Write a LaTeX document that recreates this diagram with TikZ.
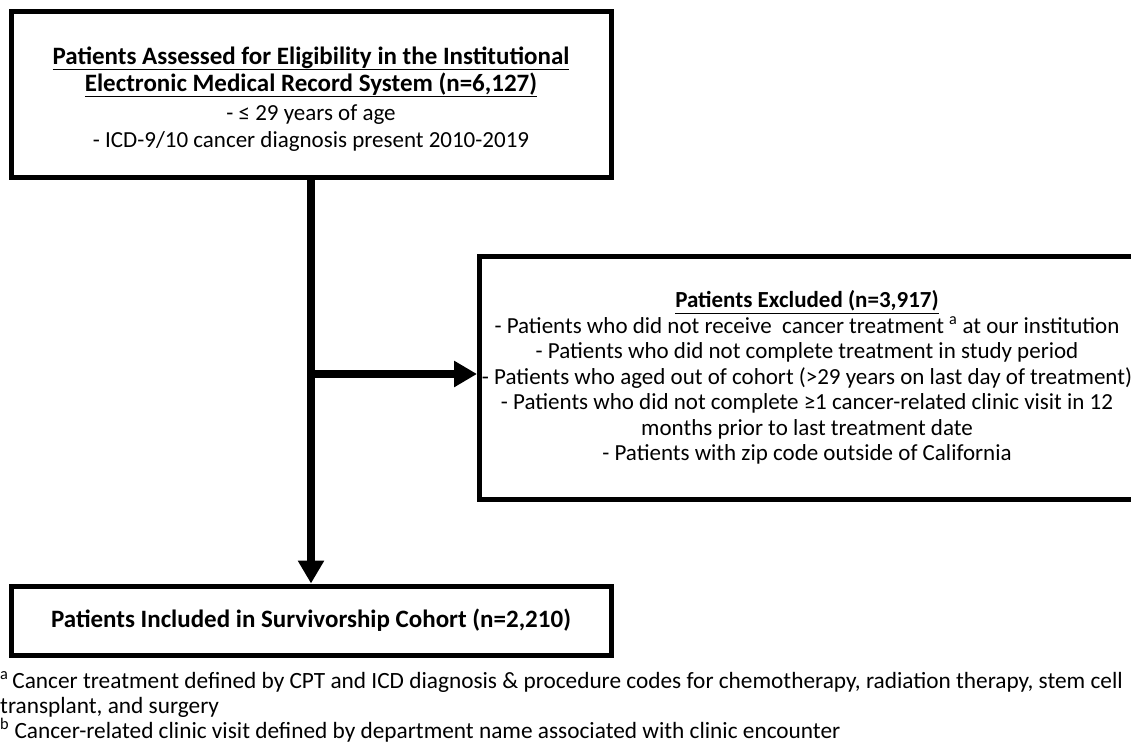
\documentclass[tikz,border=0pt]{standalone}
\usepackage{fontspec}
\setmainfont{Carlito}
\usetikzlibrary{arrows.meta}
\begin{document}
\begin{tikzpicture}[x=1pt,y=-1pt,
  box/.style={draw=black,line width=5pt,fill=white,inner sep=0pt,align=center,
    font=\fontsize{23}{27}\selectfont},
  bigtitle/.style={font=\fontsize{25}{27}\selectfont\bfseries},
  flow/.style={line width=7.5pt,-{Triangle[length=23pt,width=25pt]}},
  note/.style={anchor=north west,inner sep=0pt,align=left,
    font=\fontsize{23.3}{25}\selectfont}]
\useasboundingbox (0,0) rectangle (1131,749);
\clip (0,0) rectangle (1131,749);
\node[box,minimum width=600pt,minimum height=166pt] (top) at (311,94.5)
  {\rule{0pt}{26pt}{\fontsize{25}{27}\selectfont\bfseries\underline{Patients Assessed for Eligibility in the Institutional}}\\
   {\fontsize{25}{27}\selectfont\bfseries\underline{Electronic Medical Record System (n=6,127)}}\\[2pt]
   - ≤ 29 years of age\\
   - ICD-9/10 cancer diagnosis present 2010-2019};
\node[box,minimum width=655pt,minimum height=243.5pt,font=\fontsize{23}{25.5}\selectfont] (excl) at (807,377.75)
  {\textbf{\underline{Patients Excluded (n=3,917)}}\\
   - Patients who did not receive\ \ cancer treatment \textsuperscript{a} at our institution\\
   - Patients who did not complete treatment in study period\\
   - Patients who aged out of cohort (>29 years on last day of treatment)\\
   - Patients who did not complete ≥1 cancer-related clinic visit in 12\\
   months prior to last treatment date\\
   - Patients with zip code outside of California};
\node[box,minimum width=600pt,minimum height=69pt,bigtitle] (incl) at (311,620.5)
  {Patients Included in Survivorship Cohort (n=2,210)};
\coordinate (branch) at (311,374);
\draw[flow] (top.south) -- (incl.north);
\draw[flow] (branch) -- (branch -| excl.west);
\node[note] (fn) at (0,671)
  {\textsuperscript{a}\,Cancer treatment defined by CPT and ICD diagnosis \& procedure codes for chemotherapy, radiation therapy, stem cell\\
   transplant, and surgery\\
   \textsuperscript{b} Cancer-related clinic visit defined by department name associated with clinic encounter};
\end{tikzpicture}
\end{document}
